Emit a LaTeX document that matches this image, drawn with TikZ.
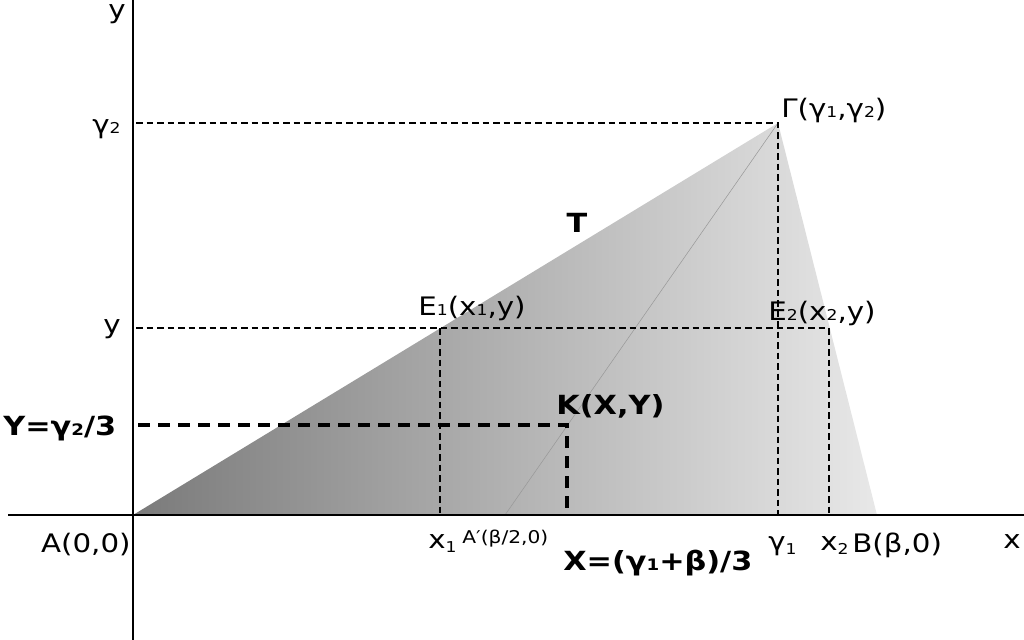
\documentclass[tikz,border=0pt]{standalone}
\usepackage{fontspec}
\setmainfont[FakeStretch=1.15]{DejaVu Sans}
\newcommand\sbs[1]{{\fontsize{8.5}{8.5}\selectfont #1}}
\newcommand\lsb[1]{\raisebox{-0.35ex}{\fontsize{8.5}{8.5}\selectfont #1}}
\newcommand\bsb[1]{{\fontsize{9}{9}\selectfont #1}}
\begin{document}
\begin{tikzpicture}[x=0.2mm,y=-0.2mm,
		axis/.style={line width=1.7pt},
		thindash/.style={line width=1.1pt,dash pattern=on 1.3mm off 0.8mm},
		thickdash/.style={line width=2.8pt,dash pattern=on 2.4mm off 1.6mm},
		lab/.style={inner sep=0pt,font=\fontsize{14.5}{17}\selectfont},
		blab/.style={inner sep=0pt,font=\fontsize{15}{18}\selectfont\bfseries},
		slab/.style={inner sep=0pt,font=\fontsize{10}{12}\selectfont}]
	\useasboundingbox (0,0) rectangle (1024,640);
		\coordinate (A) at (133,515);
		\coordinate (G) at (778,123);
		\coordinate (B) at (877,515);
		\coordinate (Ap) at (505,515);
		\coordinate (E1) at (440,328);
		\coordinate (E2) at (829,328);
		\coordinate (K) at (567,425);
		\coordinate (Gy) at (136,123);
		\coordinate (Ey) at (136,328);
		\coordinate (Ky) at (138,425);
		\coordinate (Gx) at (778,515);
		\coordinate (E1x) at (440,515);
		\coordinate (E2x) at (829,515);
		\coordinate (Kx) at (567,515);
		\coordinate (ytop) at (133,0);
		\coordinate (ybot) at (133,640);
		\coordinate (xleft) at (8,515);
		\coordinate (xright) at (1024,515);
		\shade[left color=black!52,middle color=black!28,right color=black!9] (A) -- (G) -- (B) -- cycle;
		\draw[gray!80,line width=0.3pt] (Ap) -- (G);
		\draw[thindash] (Gy) -- (G) -- (Gx);
		\draw[thindash] (Ey) -- (E2) -- (E2x);
		\draw[thindash] (E1) -- (E1x);
		\draw[thickdash] (Ky) -- (K) -- (Kx);
		\draw[axis] (ytop) -- (ybot);
		\draw[axis] (xleft) -- (xright);
		\node[lab,anchor=base] (ylab) at (117,18) {y};
		\node[lab,anchor=base east] (g2lab) at (121,133) {γ\sbs{2}};
		\node[lab,anchor=base east] (yvlab) at (121,333) {y};
		\node[blab,anchor=base west] (Ylab) at (3,435) {Y=γ\bsb{2}/3};
		\node[lab,anchor=base east] (Alab) at (131,552) {A(0,0)};
		\node[lab,anchor=base west] (x1lab) at (428,548) {x\lsb{1}};
		\node[slab,anchor=base west] (Aplab) at (462,543) {A′(β/2,0)};
		\node[blab,anchor=base west] (Xlab) at (563,570) {X=(γ\bsb{1}+β)/3};
		\node[lab,anchor=base west] (g1lab) at (768,550) {γ\lsb{1}};
		\node[lab,anchor=base west] (x2lab) at (820,550) {x\lsb{2}};
		\node[lab,anchor=base west] (Blab) at (852,552) {B(β,0)};
		\node[lab,anchor=base west] (xlab) at (1003,548) {x};
		\node[lab,anchor=base west] (Glab) at (781,117) {Γ(γ\sbs{1},γ\sbs{2})};
		\node[blab,anchor=base] (Tlab) at (577,232) {T};
		\node[lab,anchor=base west] (E1lab) at (418,315) {E\sbs{1}(x\sbs{1},y)};
		\node[lab,anchor=base west] (E2lab) at (768,320) {E\sbs{2}(x\sbs{2},y)};
		\node[blab,anchor=base west] (Klab) at (556,414) {K(X,Y)};
	\end{tikzpicture}
\end{document}
